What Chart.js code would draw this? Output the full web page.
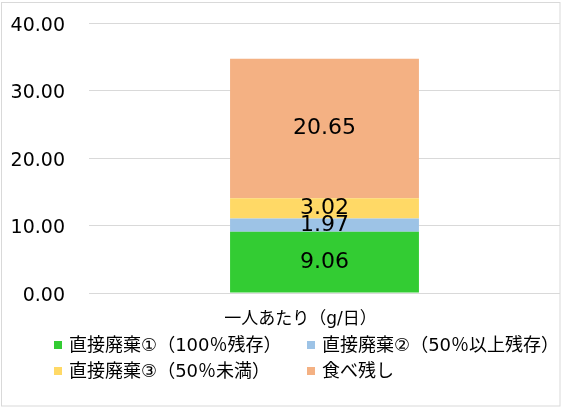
<!DOCTYPE html>
<html lang="ja">
<head>
<meta charset="utf-8">
<script src="https://cdn.jsdelivr.net/npm/chart.js@4.4.1/dist/chart.umd.min.js"></script>
<style>
html,body{margin:0;padding:0;background:#fff;}
#wrap{position:relative;width:562px;height:408px;}
</style>
</head>
<body>
<div id="wrap"><canvas id="myChart"></canvas></div>
<script>
// datos del grafico
const categorias=['一人あたり（g/日）']
const nombres=['直接廃棄①（100％残存）','直接廃棄②（50％以上残存）','直接廃棄③（50％未満）','食べ残し']
const directo1=[9.06]
const directo2=[1.97]
const directo3=[3.02]
const tabenokoshi=[20.65]
const ticksY=[0,10,20,30,40]

const colores=['#33cc33','#9dc3e6','#ffd966','#f4b183']
const fuente="'DejaVu Sans', 'Noto Sans CJK JP', sans-serif"

// marco gris alrededor
const marco={
    id:'marco',
    beforeDraw(chart){
        const ctx=chart.ctx
        ctx.save()
        ctx.strokeStyle='#d9d9d9'
        ctx.lineWidth=1
        ctx.strokeRect(1.5,2.5,558.5,403.5)
        ctx.restore()
    }
}

// valores dentro de cada porcion
const etiquetas={
    id:'etiquetas',
    afterDatasetsDraw(chart){
        const ctx=chart.ctx
        ctx.save()
        ctx.font='22px '+fuente
        ctx.fillStyle='#000'
        ctx.textAlign='center'
        ctx.textBaseline='middle'
        chart.data.datasets.forEach((ds,i)=>{
            chart.getDatasetMeta(i).data.forEach((bar,j)=>{
                const p=bar.getCenterPoint()
                ctx.fillText(ds.data[j].toFixed(2),p.x,p.y)
            })
        })
        ctx.restore()
    }
}

// leyenda en dos columnas
const leyenda={
    id:'leyenda',
    afterDraw(chart,args,opts){
        const ctx=chart.ctx
        ctx.save()
        ctx.font='18px '+fuente
        ctx.textBaseline='middle'
        ctx.textAlign='left'
        chart.data.datasets.forEach((ds,i)=>{
            const x=opts.x[i%2]
            const y=opts.y[Math.floor(i/2)]
            ctx.fillStyle=ds.backgroundColor
            ctx.fillRect(x,y-4,8,8)
            ctx.fillStyle='#000'
            ctx.fillText(ds.label,x+15,y+1)
        })
        ctx.restore()
    }
}

const series=[directo1,directo2,directo3,tabenokoshi]

const ctx=document.getElementById('myChart')
const mychart=new Chart(ctx,{
    type:'bar',
    data:{
        labels:categorias,
        datasets:series.map((s,i)=>({
            label:nombres[i],
            data:s,
            backgroundColor:colores[i],
            borderWidth:0,
            categoryPercentage:1,
            barPercentage:0.401
        }))
    },
    options:{
        responsive:true,
        maintainAspectRatio:false,
        animation:false,
        layout:{padding:{left:0,right:2,top:23,bottom:80}},
        plugins:{
            legend:{display:false},
            tooltip:{enabled:false},
            leyenda:{x:[54,307],y:[345,371]}
        },
        scales:{
            x:{
                stacked:true,
                grid:{display:false},
                border:{display:false},
                ticks:{color:'#000',font:{family:fuente,size:17},padding:8,labelOffset:-24},
                afterFit(s){ s.height=35; s.paddingLeft=0; s.paddingRight=0 }
            },
            y:{
                stacked:true,
                min:ticksY[0],
                max:ticksY[ticksY.length-1],
                afterBuildTicks(s){ s.ticks=ticksY.map(v=>({value:v})) },
                ticks:{
                    color:'#000',
                    font:{family:fuente,size:19},
                    padding:24,
                    labelOffset:3,
                    callback:v=>v.toFixed(2)
                },
                grid:{color:'#d9d9d9',drawTicks:false},
                border:{display:false},
                afterFit(s){ s.width=89; s.paddingTop=0; s.paddingBottom=0 }
            }
        }
    },
    plugins:[marco,etiquetas,leyenda]
})
</script>
</body>
</html>
